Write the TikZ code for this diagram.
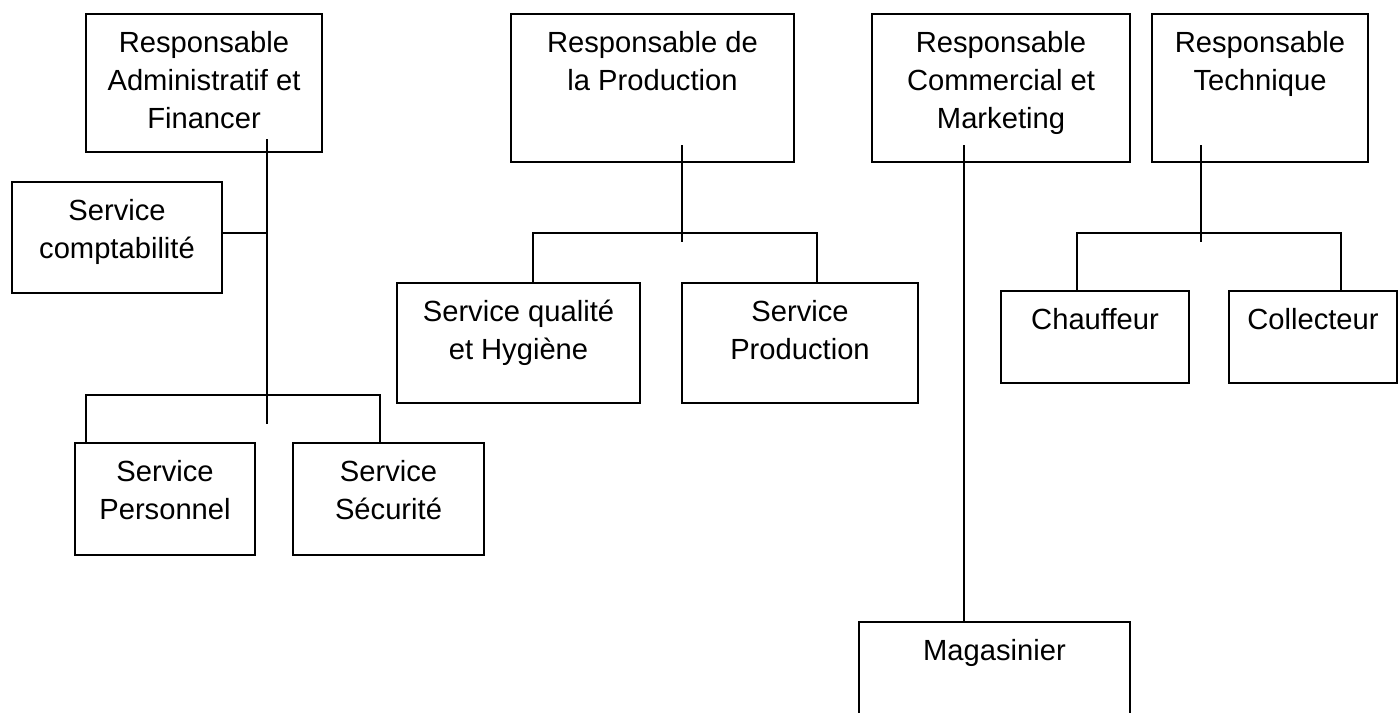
\documentclass[tikz,border=0pt]{standalone}
\usepackage{fontspec}
\setmainfont{Liberation Sans}
\begin{document}
\begin{tikzpicture}[x=0.02cm, y=-0.02cm, line width=0.75pt,
	box/.style={draw, rectangle, inner sep=0pt},
	txt/.style={anchor=north, inner sep=0pt, align=center, yshift=-0.35cm,
		font=\fontsize{16.6}{21.6}\selectfont}
	]
	\clip (0,0) rectangle (1399,713);
	
	\node [box, minimum width=4.72cm, minimum height=2.76cm] (raf) at (204,83) {};
	\node [txt] (raf-t) at (raf.north) {Responsable\\Administratif et\\Financer};
	\node [box, minimum width=4.2cm, minimum height=2.22cm] (compta) at (117,237.5) {};
	\node [txt] (compta-t) at (compta.north) {Service\\comptabilité};
	\node [box, minimum width=3.6cm, minimum height=2.24cm] (perso) at (165,499) {};
	\node [txt] (perso-t) at (perso.north) {Service\\Personnel};
	\node [box, minimum width=3.82cm, minimum height=2.24cm] (secu) at (388.5,499) {};
	\node [txt] (secu-t) at (secu.north) {Service\\Sécurité};
	
	\node [box, minimum width=5.66cm, minimum height=2.96cm] (rprod) at (652.5,88) {};
	\node [txt] (rprod-t) at (rprod.north) {Responsable de\\la Production};
	\node [box, minimum width=4.86cm, minimum height=2.4cm] (qual) at (518.5,343) {};
	\node [txt] (qual-t) at (qual.north) {Service qualité\\et Hygiène};
	\node [box, minimum width=4.72cm, minimum height=2.4cm] (sprod) at (800,343) {};
	\node [txt] (sprod-t) at (sprod.north) {Service\\Production};
	
	\node [box, minimum width=5.16cm, minimum height=2.96cm] (rcom) at (1001,88) {};
	\node [txt] (rcom-t) at (rcom.north) {Responsable\\Commercial et\\Marketing};
	\node [box, minimum width=5.42cm, minimum height=2.4cm] (mag) at (994.5,682) {};
	\node [txt] (mag-t) at (mag.north) {Magasinier};
	
	\node [box, minimum width=4.32cm, minimum height=2.96cm] (rtech) at (1260,88) {};
	\node [txt] (rtech-t) at (rtech.north) {Responsable\\Technique};
	\node [box, minimum width=3.76cm, minimum height=1.84cm] (chauf) at (1095,337) {};
	\node [txt] (chauf-t) at (chauf.north) {Chauffeur};
	\node [box, minimum width=3.36cm, minimum height=1.84cm] (coll) at (1313,337) {};
	\node [txt] (coll-t) at (coll.north) {Collecteur};
	
	\coordinate (raf-s) at (267,139);
	\coordinate (raf-c) at (267,233);
	\coordinate (raf-e) at (267,424);
	\coordinate (raf-l) at (86,395);
	\coordinate (raf-r) at (380,395);
	\draw (raf-s) -- (raf-e);
	\draw (raf-c) -- (raf-c -| compta.east);
	\draw (raf-l |- perso.north) -- (raf-l) -- (raf-r) -- (raf-r |- secu.north);
	
	\coordinate (rprod-s) at (682,145);
	\coordinate (rprod-e) at (682,242);
	\coordinate (rprod-l) at (533,233);
	\coordinate (rprod-r) at (817,233);
	\draw (rprod-s) -- (rprod-e);
	\draw (rprod-l |- qual.north) -- (rprod-l) -- (rprod-r) -- (rprod-r |- sprod.north);
	
	\coordinate (rcom-s) at (964,145);
	\draw (rcom-s) -- (rcom-s |- mag.north);
	
	\coordinate (rtech-s) at (1201,145);
	\coordinate (rtech-e) at (1201,242);
	\coordinate (rtech-l) at (1077,233);
	\coordinate (rtech-r) at (1341,233);
	\draw (rtech-s) -- (rtech-e);
	\draw (rtech-l |- chauf.north) -- (rtech-l) -- (rtech-r) -- (rtech-r |- coll.north);
\end{tikzpicture}
\end{document}
